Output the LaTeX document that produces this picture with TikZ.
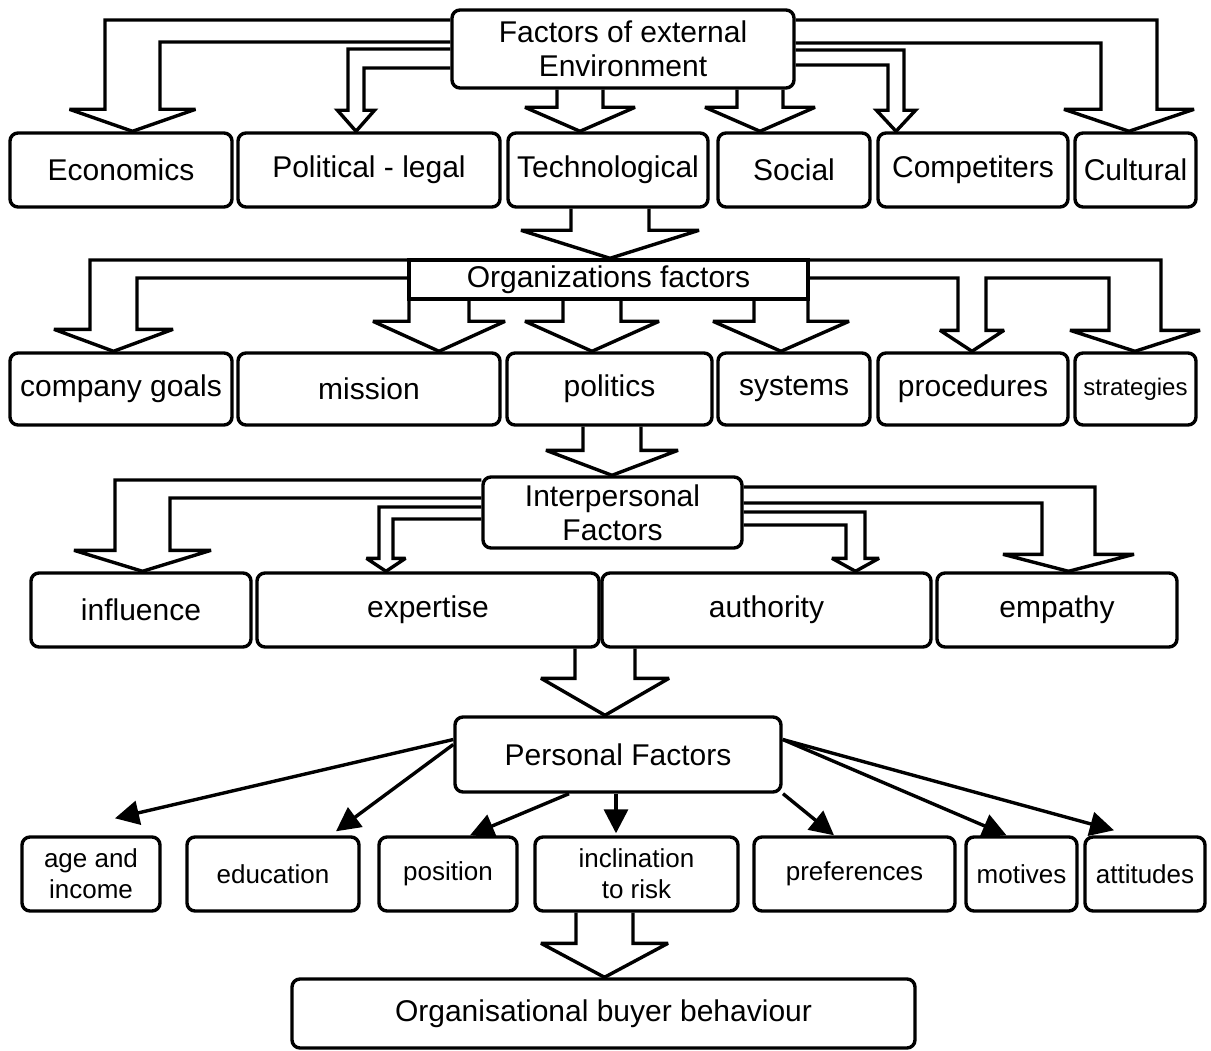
\documentclass[tikz,border=0pt]{standalone}
\usepackage{fontspec}
\setmainfont{Liberation Sans}
\usetikzlibrary{calc}
\usetikzlibrary{arrows.meta}

% hollow arrow that leaves a box sideways and bends down
% #1 source anchor, #2 outer y, #3 inner y, #4 outer x, #5 inner x, #6 head half width, #7 head length, #8 target
\newcommand{\bentarr}[8]{%
  \coordinate (tip) at ({(#4+#5)/2},0 |- #8.north);
  \draw[fat] (#1 |- 0,#2) -- (#4,#2) -- ($(tip)+({(#4-#5)/2},-#7)$)
    -- ($(tip)+({(#4-#5)/abs(#4-#5)*#6},-#7)$) -- (tip)
    -- ($(tip)+({(#5-#4)/abs(#4-#5)*#6},-#7)$) -- ($(tip)+({(#5-#4)/2},-#7)$)
    -- (#5,#3) -- (#1 |- 0,#3);}
% hollow arrow straight down
% #1 source, #2 centre x, #3 shaft half width, #4 head half width, #5 head length, #6 target
\newcommand{\downarr}[6]{%
  \coordinate (tip) at (#2,0 |- #6.north);
  \draw[fat] ({#2-#3},0 |- #1.south) -- ($(tip)+(-#3,-#5)$) -- ($(tip)+(-#4,-#5)$)
    -- (tip) -- ($(tip)+(#4,-#5)$) -- ($(tip)+(#3,-#5)$) -- ({#2+#3},0 |- #1.south);}

\begin{document}
\begin{tikzpicture}[x=1pt,y=-1pt,
  box/.style={draw, line width=3.4pt, rounded corners=8pt, inner sep=2pt, align=center,
    font=\fontsize{30}{36}\selectfont},
  smalltxt/.style={font=\fontsize{26}{31}\selectfont},
  fat/.style={line width=3.4pt, line join=miter, miter limit=3},
  pa/.style={line width=3.4pt, -{Triangle[length=24pt,width=24pt]}}]
\useasboundingbox (0,0) rectangle (1211,1051);

\node[box, minimum width=342, minimum height=78] (top) at (623,49) {Factors of external\\[-2pt]Environment};

\node[box, minimum width=222, minimum height=74] (econ) at (121,170) {Economics};
\node[box, minimum width=262, minimum height=74] (legal) at (369,170) {Political - legal};
\node[box, minimum width=200, minimum height=74] (techn) at (608,170) {Technological};
\node[box, minimum width=152, minimum height=74] (social) at (794,170) {Social};
\node[box, minimum width=190, minimum height=74] (compet) at (973,170) {Competiters};
\node[box, minimum width=121, minimum height=74] (cultur) at (1135.5,170) {Cultural};

\node[box, sharp corners, inner sep=0pt, minimum width=399, minimum height=39] (org) at (608.5,279.5) {Organizations factors};

\node[box, minimum width=222, minimum height=72] (goals) at (121,389) {company goals};
\node[box, minimum width=262, minimum height=72] (mission) at (369,389) {mission};
\node[box, minimum width=205, minimum height=72] (politics) at (609.5,389) {politics};
\node[box, minimum width=152, minimum height=72] (systems) at (794,389) {systems};
\node[box, minimum width=190, minimum height=72] (proced) at (973,389) {procedures};
\node[box, minimum width=121, minimum height=72, font=\fontsize{24}{28}\selectfont] (strateg) at (1135.5,389) {strategies};

\node[box, minimum width=259, minimum height=71] (inter) at (612.5,512.5) {Interpersonal\\[-2pt]Factors};

\node[box, minimum width=220, minimum height=74] (infl) at (141,610) {influence};
\node[box, minimum width=342, minimum height=74] (expert) at (428,610) {expertise};
\node[box, minimum width=329, minimum height=74] (auth) at (766.5,610) {authority};
\node[box, minimum width=240, minimum height=74] (empathy) at (1057,610) {empathy};

\node[box, minimum width=326, minimum height=75] (pers) at (618,754.5) {Personal Factors};

\node[box, smalltxt, minimum width=138, minimum height=74] (age) at (91,874) {age and\\income};
\node[box, smalltxt, minimum width=172, minimum height=74] (edu) at (273,874) {education};
\node[box, smalltxt, minimum width=138, minimum height=74] (pos) at (448,874) {position};
\node[box, smalltxt, minimum width=203, minimum height=74] (incl) at (636.5,874) {inclination\\to risk};
\node[box, smalltxt, minimum width=201, minimum height=74] (pref) at (854.5,874) {preferences};
\node[box, smalltxt, minimum width=111, minimum height=74] (motiv) at (1021.5,874) {motives};
\node[box, smalltxt, minimum width=120, minimum height=74] (attit) at (1145,874) {attitudes};

\node[box, minimum width=623, minimum height=69] (final) at (603.5,1013.5) {Organisational buyer behaviour};

\bentarr{top.west}{20}{42}{105}{160}{63}{22}{econ}
\bentarr{top.west}{49}{68}{348}{364}{18.5}{21}{legal}
\downarr{top}{580}{23}{55}{24}{techn}
\downarr{top}{760}{23}{55}{24}{social}
\bentarr{top.east}{50}{65}{904}{888}{19.5}{21}{compet}
\bentarr{top.east}{20}{43}{1157}{1101}{65}{22}{cultur}

\downarr{techn}{610}{39}{89}{28}{org}

\bentarr{org.west}{260}{278}{90}{137}{59.5}{22}{goals}
\downarr{org}{439}{30}{66}{30}{mission}
\downarr{org}{592}{29}{67}{30}{politics}
\downarr{org}{781}{27}{68}{30}{systems}
\coordinate (tp) at (972,0 |- proced.north);
\coordinate (ts) at (1135,0 |- strateg.north);
\draw[fat] (org.east |- 0,260) -- (1161,260) -- ($(ts)+(26,-21)$) -- ($(ts)+(65,-21)$) -- (ts)
  -- ($(ts)+(-65,-21)$) -- ($(ts)+(-26,-21)$) -- (1109,278) -- (986,278)
  -- ($(tp)+(14,-21)$) -- ($(tp)+(32,-21)$) -- (tp) -- ($(tp)+(-32,-21)$) -- ($(tp)+(-14,-21)$)
  -- (958,278) -- (org.east |- 0,278);

\downarr{politics}{612}{29}{66}{25}{inter}

\bentarr{inter.west}{480}{498}{115}{170}{68.5}{21}{infl}
\bentarr{inter.west}{507}{519}{379}{393}{19.5}{13}{expert}
\bentarr{inter.east}{512}{525}{865}{846}{23.5}{13}{auth}
\bentarr{inter.east}{487}{503}{1095}{1042}{65.5}{17}{empathy}

\downarr{expert}{605}{30}{64}{37}{pers}

\draw[pa] ($(pers.west)+(0,-15)$) -- ($(age.north)+(24,-17)$);
\draw[pa] ($(pers.west)+(0,-10)$) -- ($(edu.north)+(63,-4)$);
\draw[pa] ($(pers.south)+(-49,0)$) -- ($(pos.north)+(22,0)$);
\draw[pa] ($(pers.south)+(-2,0)$) -- ($(incl.north)+(-20.5,-2)$);
\draw[pa] ($(pers.south)+(165,0)$) -- ($(pref.north)+(-20.5,0)$);
\draw[pa] ($(pers.east)+(0,-15)$) -- ($(motiv.north)+(-15,0)$);
\draw[pa] ($(pers.east)+(0,-15)$) -- ($(attit.north)+(-31,-5)$);

\downarr{incl}{604.5}{28.5}{63.5}{34}{final}
\end{tikzpicture}
\end{document}
